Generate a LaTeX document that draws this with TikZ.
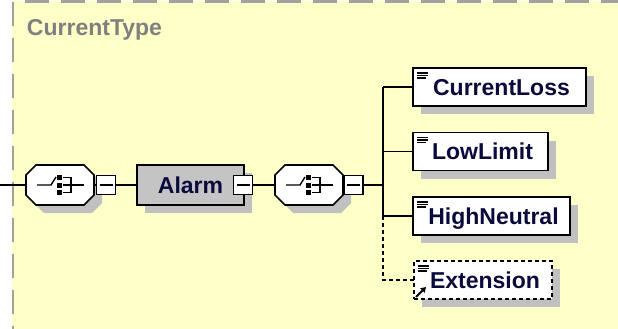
\documentclass[tikz,border=0pt]{standalone}
\usepackage{fontspec}
\setmainfont{Liberation Sans}
\usetikzlibrary{arrows.meta}
\definecolor{bgyellow}{RGB}{255,255,200}
\definecolor{bordergray}{RGB}{160,160,160}
\definecolor{titlegray}{RGB}{128,128,128}
\definecolor{shadowgray}{RGB}{192,192,192}
\definecolor{alarmgray}{RGB}{196,196,196}
\definecolor{txtblue}{RGB}{10,10,60}
\pgfdeclarelayer{back}
\pgfdeclarelayer{shadow}
\pgfsetlayers{back,shadow,main}
\begin{document}
\begin{tikzpicture}[x=1pt,y=-1pt,
  every node/.style={inner sep=0pt, outer sep=0pt},
  conn/.style={line width=1.6pt, draw=black},
  dconn/.style={conn, dash pattern=on 4pt off 3pt},
  lbl/.style={font=\fontsize{23}{27}\selectfont\bfseries, text=txtblue, text height=16.5pt, text depth=0pt},
  elbox/.style={lbl, draw=black, line width=1.6pt, fill=white, minimum height=38pt, anchor=west},
  extbox/.style={elbox, dash pattern=on 4pt off 3pt},
  alarmbox/.style={lbl, draw=black, line width=1.6pt, fill=alarmgray, minimum width=107pt, minimum height=40pt},
  minusbox/.style={draw=black, line width=1.6pt, fill=white, minimum width=19pt, minimum height=19pt,
    path picture={\draw[line width=1.4pt] ([xshift=3pt]path picture bounding box.west) -- ([xshift=-3pt]path picture bounding box.east);}},
  octanchor/.style={minimum width=68pt, minimum height=40pt},
  octa/.pic={
    \draw[line width=1.6pt, fill=white] (-24,-20) -- (24,-20) -- (34,-10) -- (34,10) -- (24,20) -- (-24,20) -- (-34,10) -- (-34,-10) -- cycle;
    \draw[line width=1.4pt] (-23,0) -- (-9,0) -- (-4,-8);
    \fill (-3,-10) rectangle (2,-5);
    \fill (-3,-2.5) rectangle (2,2.5);
    \fill (-3,5) rectangle (2,10);
    \draw[line width=1.4pt] (3,-7.5) -- (11,-7.5) -- (11,7.5) -- (3,7.5);
    \draw[line width=1.4pt] (3,0) -- (24,0);
  },
  octshadow/.pic={
    \fill[shadowgray] (-16,-12) -- (32,-12) -- (42,-2) -- (42,18) -- (32,28) -- (-16,28) -- (-26,18) -- (-26,-2) -- cycle;
  },
  docicon/.pic={
    \draw[line width=1.2pt] (4,5) -- (15,5);
    \draw[line width=1.2pt] (4,7.5) -- (15,7.5);
    \draw[line width=1.2pt] (4,10) -- (13,10);
  }
]
\useasboundingbox (0,0) rectangle (618,329);
\clip (0,0) rectangle (618,329);

\begin{pgfonlayer}{back}
  \fill[bgyellow] (12,1) rectangle (640,350);
  \draw[bordergray, line width=2.5pt, dash pattern=on 24pt off 12pt] (13,350) -- (13,1.5) -- (640,1.5);
  \node[anchor=base west, font=\fontsize{23}{27}\selectfont\bfseries, text=titlegray] (title) at (27,36) {CurrentType};
\end{pgfonlayer}

% anchors for octagons
\node[octanchor] (o1) at (60,185) {};
\node[octanchor] (o2) at (309,185) {};
\begin{pgfonlayer}{shadow}
  \pic at (o1) {octshadow};
  \pic at (o2) {octshadow};
\end{pgfonlayer}
\pic at (o1) {octa};
\pic at (o2) {octa};

\node[minusbox] (m1) at (106,185) {};
\node[alarmbox] (alarm) at (190.5,185) {Alarm\hspace{6pt}};
\node[minusbox] (m2) at (243,185) {};
\node[minusbox] (m3) at (353.5,185) {};

\node[elbox, minimum width=173pt] (cl) at (413,87) {\hspace{4pt}CurrentLoss};
\node[elbox, minimum width=135pt] (ll) at (413,151.5) {\hspace{4pt}LowLimit};
\node[elbox, minimum width=157pt] (hn) at (413,216) {\hspace{4pt}HighNeutral};
\node[extbox, minimum width=138pt] (ex) at (414,280) {\hspace{4pt}Extension};

\foreach \n in {cl,ll,hn,ex} { \pic at (\n.north west) {docicon}; }
\draw[line width=1.8pt, -{Triangle[length=5pt,width=6pt]}] ([shift={(2,-2)}]ex.south west) -- ++(10,-10);

\begin{pgfonlayer}{shadow}
  \foreach \n in {cl,ll,hn,ex,alarm}
    \fill[shadowgray] ([shift={(8,8)}]\n.north west) rectangle ([shift={(8,8)}]\n.south east);
\end{pgfonlayer}

\coordinate (start) at (0,185);
\coordinate (br) at (383,185);
\draw[conn] (start) -- (o1.west);
\draw[conn] (o1.east) -- (m1.west);
\draw[conn] (m1.east) -- (alarm.west);
\draw[conn] (m2.east) -- (o2.west);
\draw[conn] (o2.east) -- (m3.west);
\draw[conn] (m3.east) -- (br);
\draw[conn] (br |- cl.west) -- (br |- hn.west);
\draw[conn] (br |- cl.west) -- (cl.west);
\draw[conn] (br |- ll.west) -- (ll.west);
\draw[conn] (br |- hn.west) -- (hn.west);
\draw[dconn] (br |- hn.west) -- (br |- ex.west) -- (ex.west);
\end{tikzpicture}
\end{document}
